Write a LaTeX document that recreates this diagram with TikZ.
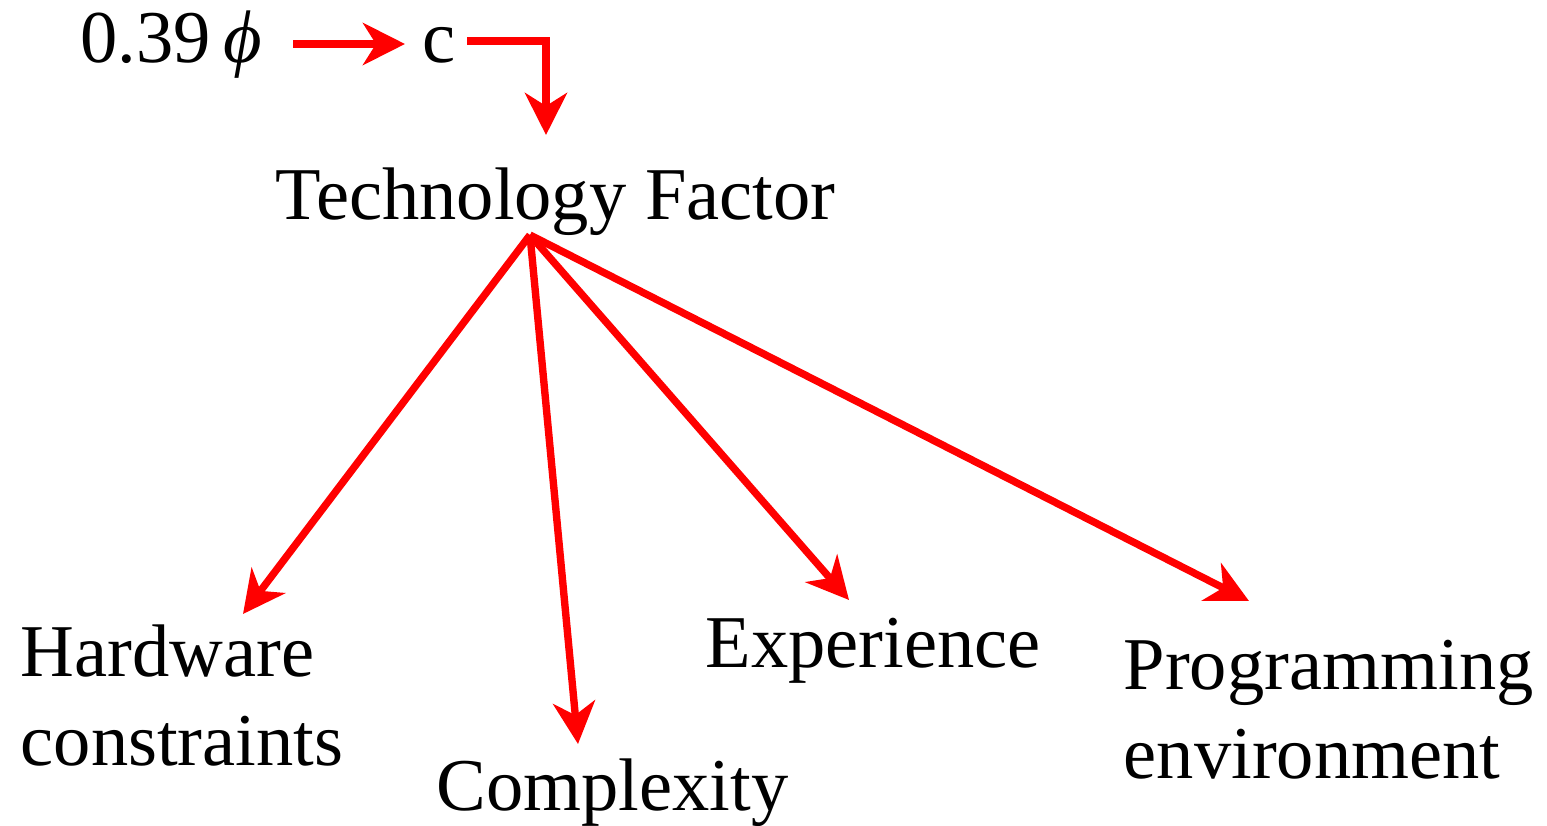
\documentclass[tikz,border=0pt]{standalone}
\usepackage{fontspec}
\setmainfont{Liberation Serif}
\usepackage{tikz}
\usetikzlibrary{positioning,arrows.meta}

\begin{document}
\begin{tikzpicture}[every node/.style={font=\fontsize{21.2}{25.2}\selectfont,inner sep=0pt},
    lbl/.style={anchor=base west,align=left},
    arr/.style={red,line width=2.1pt,-{Stealth[length=4.2mm,width=4.2mm,inset=1.3mm]}}]
  \useasboundingbox (0,0) rectangle (15.47,8.25);
  % top chain
  \node[lbl] (phi) at (0.80,7.62) {0.39\,\textit{ϕ}};
  \node[lbl] (c) at (4.22,7.62) {c};
  \node[lbl] (tech) at (2.75,6.05) {Technology Factor};
  \coordinate (a0) at (2.93,7.81);
  \coordinate (a1) at (4.05,7.81);
  \coordinate (b0) at (4.67,7.84);
  \coordinate (b1) at (5.46,7.84);
  \coordinate (b2) at (5.46,6.90);
  \draw[arr] (a0) -- (a1);
  \draw[arr] (b0) -- (b1) -- (b2);
  % factors
  \node[lbl] (hw) at (0.20,0.60) {Hardware\\constraints};
  \node[lbl] (cx) at (4.36,0.15) {Complexity};
  \node[lbl] (ex) at (7.05,1.58) {Experience};
  \node[lbl] (pg) at (11.23,0.47) {Programming\\environment};
  \coordinate (hub) at (5.30,5.90);
  \coordinate (hwt) at (2.43,2.11);
  \coordinate (cxt) at (5.78,0.81);
  \coordinate (ext) at (8.49,2.25);
  \coordinate (pgt) at (12.49,2.24);
  \foreach \t in {hwt,cxt,ext,pgt}{
    \draw[arr] (hub) -- (\t);}
\end{tikzpicture}
\end{document}
